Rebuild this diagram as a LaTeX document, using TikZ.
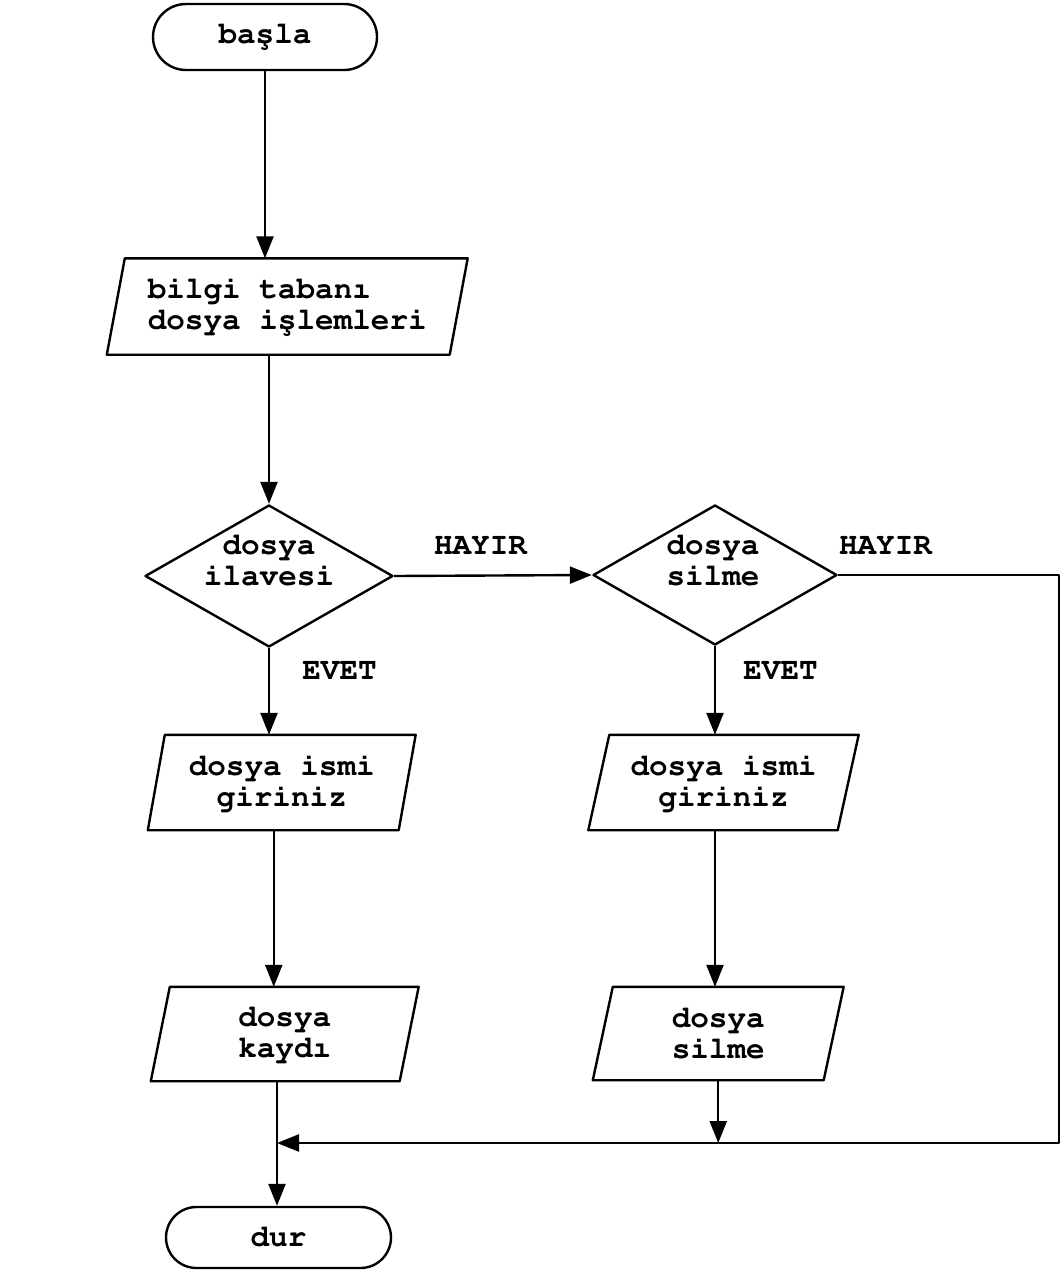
\documentclass[tikz,border=0pt]{standalone}
\usepackage[T1,TU]{fontenc}
\usetikzlibrary{shapes.geometric,shapes.misc,arrows.meta}
\newcommand{\crfont}{\fontencoding{T1}\fontfamily{pcr}\fontseries{b}\fontsize{31}{31}\selectfont}
\begin{document}
\begin{tikzpicture}[x=1pt,y=-1pt,
  every node/.style={font=\crfont, inner sep=0pt},
  ln/.style={line width=2.4pt, line join=round},
  arr/.style={ln, -{Triangle[length=22pt,width=17pt]}},
  term/.style={rounded rectangle, draw, ln},
  io/.style={rectangle, draw=none, align=center},
  dec/.style={diamond, draw, ln},
  txt/.style={align=center}
]
\useasboundingbox (0,0) rectangle (1063,1272);

\node[term, minimum width=224pt, minimum height=66pt] (basla) at (265,37) {ba\c{s}la};
\node[io, minimum width=342.5pt, minimum height=96pt, align=left] (bilgi) at (287.25,306.5) {bilgi taban\i\\dosya i\c{s}lemleri};
\node[dec, minimum width=248pt, minimum height=142pt] (d1) at (269,576) {};
\node[txt] (d1t) at (269,561) {dosya\\ilavesi};
\node[dec, minimum width=244pt, minimum height=140pt] (d2) at (715,575) {};
\node[txt] (d2t) at (713,561) {dosya\\silme};
\node[txt] (h1) at (480.5,546) {HAYIR};
\node[txt] (h2) at (885.5,546) {HAYIR};
\node[txt] (e1) at (339.5,671) {EVET};
\node[txt] (e2) at (780.5,671) {EVET};
\node[io, minimum width=250.5pt, minimum height=95pt] (g1) at (281.75,782.5) {dosya ismi\\giriniz};
\node[io, minimum width=249pt, minimum height=95pt] (g2) at (723.5,782.5) {dosya ismi\\giriniz};
\node[io, minimum width=248.5pt, minimum height=94pt] (kaydi) at (284.75,1034) {dosya\\kayd\i};
\node[io, minimum width=230.5pt, minimum height=93pt] (silme) at (718.25,1033.5) {dosya\\silme};
\node[term, minimum width=225pt, minimum height=61pt] (dur) at (278.5,1237.5) {dur};

\foreach \n/\s in {bilgi/9, g1/8.5, g2/10.5, kaydi/9.5, silme/10}
  \draw[ln] ([xshift=\s pt]\n.north west) -- ([xshift=\s pt]\n.north east)
    -- ([xshift=-\s pt]\n.south east) -- ([xshift=-\s pt]\n.south west) -- cycle;

\coordinate (j) at (277,1143);
\coordinate (rb) at (1059,1143);

\draw[arr] (basla.south) -- (basla.south |- bilgi.north);
\draw[arr] (d1.north |- bilgi.south) -- (d1.north);
\draw[arr] (d1.east) -- (d2.west);
\draw[arr] (d1.south) -- (d1.south |- g1.north);
\draw[arr] ([xshift=-8pt]g1.south) -- ([xshift=-8pt]g1.south |- kaydi.north);
\draw[arr] (j |- kaydi.south) -- (j |- dur.north);
\draw[arr] (d2.south) -- (d2.south |- g2.north);
\draw[arr] (d2.south |- g2.south) -- (d2.south |- silme.north);
\draw[arr] (silme.south) -- (silme.south |- j);
\draw[arr] (d2.east) -- (d2.east -| rb) -- (rb) -- (j);
\end{tikzpicture}
\end{document}
